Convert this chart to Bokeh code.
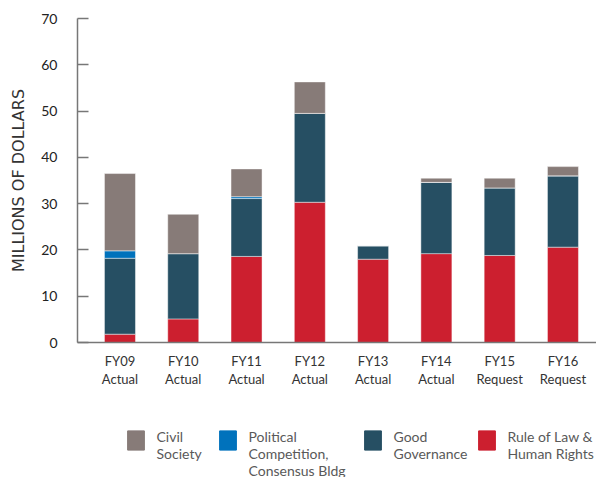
from bokeh.plotting import figure
from bokeh.layouts import column
from bokeh.models import (ColumnDataSource, Range1d, FixedTicker, Legend, LegendItem,
                          Label)
from bokeh.embed import file_html
from bokeh.resources import INLINE

years = ["FY09\nActual", "FY10\nActual", "FY11\nActual", "FY12\nActual",
         "FY13\nActual", "FY14\nActual", "FY15\nRequest", "FY16\nRequest"]
rule_of_law = [1.8, 5.1, 18.6, 30.3, 18.0, 19.2, 18.8, 20.6]
good_governance = [16.4, 14.1, 12.5, 19.2, 2.9, 15.4, 14.6, 15.4]
political = [1.6, 0.0, 0.4, 0.0, 0.0, 0.0, 0.0, 0.0]
civil_society = [16.7, 8.5, 6.0, 6.8, 0.0, 0.9, 2.1, 2.0]
y_ticks = [0, 10, 20, 30, 40, 50, 60, 70]

series = ["rule", "good", "political", "civil"]
labels = {"rule": "Rule of Law &\nHuman Rights", "good": "Good\nGovernance",
          "political": "Political\nCompetition,\nConsensus Bldg", "civil": "Civil\nSociety"}
colors = {"rule": "#cc1f2f", "good": "#264f63", "political": "#0072bc", "civil": "#877b78"}

xs = list(range(len(years)))
source = ColumnDataSource(dict(x=xs, rule=rule_of_law, good=good_governance,
                               political=political, civil=civil_society))

p = figure(width=596, height=410, output_backend="svg", toolbar_location=None,
           x_range=Range1d(-0.671, 7.53), y_range=Range1d(0, 70),
           min_border_left=77, min_border_right=0, min_border_top=18,
           min_border_bottom=68)
p.outline_line_color = None
p.xgrid.grid_line_color = None
p.ygrid.grid_line_color = None

renderers = p.vbar_stack(series, x="x", width=0.49, source=source,
                         color=[colors[s] for s in series],
                         line_color="white", line_alpha=0.45, line_width=1)

FONT = "Lato"
p.yaxis.ticker = FixedTicker(ticks=y_ticks)
p.yaxis.major_tick_in = 11
p.yaxis.major_tick_out = 0
p.yaxis.minor_tick_line_color = None
p.yaxis.axis_line_color = "#777777"
p.yaxis.axis_line_width = 1.5
p.yaxis.major_tick_line_color = "#777777"
p.yaxis.major_tick_line_width = 1.5
p.yaxis.major_label_standoff = 20
p.yaxis.major_label_text_font = FONT
p.yaxis.major_label_text_font_size = "14px"
p.yaxis.major_label_text_color = "#222222"
p.yaxis.axis_label = "MILLIONS OF DOLLARS"
p.yaxis.axis_label_text_font = "DejaVu Sans"
p.yaxis.axis_label_text_font_style = "normal"
p.yaxis.axis_label_text_font_size = "16px"
p.yaxis.axis_label_text_color = "#333333"
p.yaxis.axis_label_standoff = 10

p.xaxis.ticker = FixedTicker(ticks=xs)
p.xaxis.major_label_overrides = {i: years[i] for i in xs}
p.xaxis.major_tick_line_color = None
p.xaxis.minor_tick_line_color = None
p.xaxis.axis_line_color = "#777777"
p.xaxis.axis_line_width = 1.5
p.xaxis.major_label_standoff = 4
p.xaxis.major_label_text_font = FONT
p.xaxis.major_label_text_font_size = "13px"
p.xaxis.major_label_text_color = "#333333"
p.xaxis.major_label_text_line_height = 1.15

# legend panel: swatches (single-item legends) + multi-line text labels
order = ["civil", "political", "good", "rule"]
swatch_x = {"civil": 48, "political": 140, "good": 285, "rule": 399}
lf = figure(width=596, height=67, output_backend="svg", toolbar_location=None,
            x_axis_type=None, y_axis_type=None,
            x_range=Range1d(0, 1), y_range=Range1d(0, 1),
            min_border_left=77, min_border_right=0, min_border_top=0,
            min_border_bottom=0)
lf.outline_line_color = None
lf.xgrid.grid_line_color = None
lf.ygrid.grid_line_color = None
for s in order:
    r = lf.vbar(x=[-10], top=[0], width=0.5, color=colors[s])
    lg = Legend(items=[LegendItem(label=" ", renderers=[r])],
                location=(swatch_x[s], 25),
                glyph_width=21, glyph_height=24, label_standoff=0,
                padding=0, margin=0, border_line_color=None,
                background_fill_alpha=0, label_text_font_size="10px")
    lf.add_layout(lg)
    lf.add_layout(Label(x=swatch_x[s] + 31, y=50, x_units="screen", y_units="screen",
                        text=labels[s], text_align="left", text_baseline="top",
                        text_font=FONT, text_font_size="14px",
                        text_color="#595959", text_line_height=1.0))

layout = column(p, lf, spacing=0)
open("out.html", "w").write(file_html(layout, INLINE))
